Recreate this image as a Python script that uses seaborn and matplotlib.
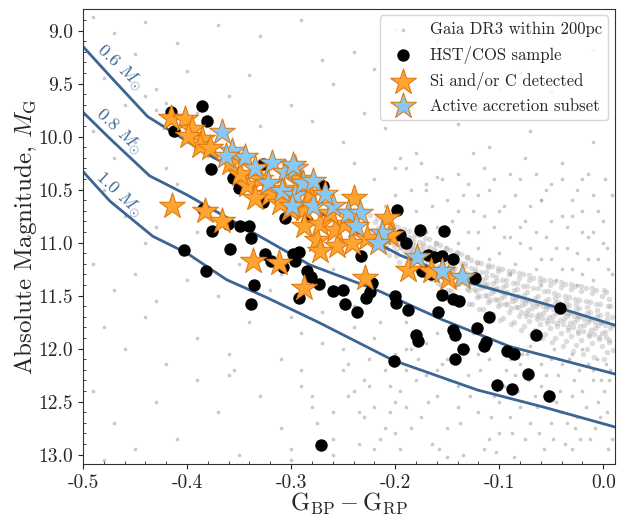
import matplotlib
matplotlib.use("Agg")
import matplotlib.pyplot as plt
from matplotlib.ticker import MultipleLocator
import pandas as pd
import seaborn as sns

# === Data ===
# Gaia DR3 background (colour, absolute G magnitude)
gaia_sparse = [
    (-0.49, 8.87), (-0.47, 9.02), (-0.44, 8.92), (-0.41, 9.12), (-0.37, 8.95), (-0.33, 9.05),
    (-0.29, 8.90), (-0.24, 9.20), (-0.20, 8.98), (-0.16, 9.10), (-0.11, 8.93), (-0.07, 9.25),
    (-0.03, 9.00), (-0.45, 9.22), (-0.27, 9.28), (-0.13, 9.30), (-0.01, 9.18),
    (-0.48, 9.45), (-0.43, 9.55), (-0.40, 9.38), (-0.36, 9.62), (-0.34, 9.42), (-0.30, 9.70),
    (-0.26, 9.50), (-0.22, 9.36), (-0.19, 9.65), (-0.15, 9.48), (-0.12, 9.72), (-0.08, 9.40),
    (-0.05, 9.58), (-0.02, 9.75), (-0.46, 9.70), (-0.39, 9.78), (-0.23, 9.78), (-0.10, 9.55),
    (-0.43, 9.75), (-0.42, 9.68), (-0.44, 9.62),
    (-0.49, 9.95), (-0.47, 10.20), (-0.45, 10.05), (-0.42, 10.30), (-0.33, 9.90), (-0.28, 9.85),
    (-0.25, 10.05), (-0.21, 9.92), (-0.18, 10.15), (-0.14, 9.88), (-0.11, 10.10), (-0.07, 9.95),
    (-0.04, 10.25), (-0.01, 10.05), (-0.20, 10.30), (-0.16, 10.38), (-0.09, 10.35), (-0.02, 10.40),
    (-0.48, 10.50), (-0.46, 10.75), (-0.43, 10.85), (-0.41, 10.45), (-0.39, 10.90), (-0.44, 11.00),
    (-0.12, 10.55), (-0.06, 10.60), (-0.03, 10.75), (-0.08, 10.85), (-0.14, 10.70), (-0.17, 10.50),
    (-0.01, 10.90), (-0.05, 10.45),
    (-0.49, 11.20), (-0.47, 11.45), (-0.45, 11.30), (-0.43, 11.55), (-0.40, 11.35), (-0.37, 11.50),
    (-0.35, 11.20), (-0.32, 11.45), (-0.26, 11.25), (-0.23, 11.35), (-0.31, 11.30), (-0.24, 11.60),
    (-0.48, 11.80), (-0.46, 12.00), (-0.44, 11.70), (-0.42, 12.15), (-0.39, 11.90), (-0.36, 12.05),
    (-0.34, 11.75), (-0.31, 12.10), (-0.29, 11.85), (-0.27, 11.65), (-0.25, 12.00), (-0.22, 11.90),
    (-0.21, 12.20),
    (-0.49, 12.40), (-0.47, 12.70), (-0.45, 12.95), (-0.43, 12.50), (-0.41, 12.85), (-0.39, 12.30),
    (-0.37, 12.60), (-0.35, 13.00), (-0.33, 12.45), (-0.31, 12.75), (-0.29, 12.35), (-0.28, 12.55),
    (-0.26, 12.85), (-0.24, 12.40), (-0.23, 12.65), (-0.22, 12.95), (-0.20, 12.50), (-0.48, 13.05),
    (-0.30, 13.05), (-0.36, 12.25), (-0.355, 12.20),
    (-0.30, 11.70), (-0.29, 12.20), (-0.28, 12.45), (-0.27, 11.95), (-0.26, 12.60), (-0.25, 12.20),
    (-0.24, 11.80), (-0.235, 12.90), (-0.23, 12.30), (-0.22, 12.55), (-0.215, 11.75), (-0.21, 12.75),
    (-0.205, 12.35), (-0.20, 12.05), (-0.195, 12.95), (-0.26, 13.00), (-0.245, 12.45), (-0.225, 12.10),
    (-0.275, 12.70), (-0.30, 12.95), (-0.19, 12.20),
]

gaia_band = [
    (-0.224, 10.74), (-0.219, 10.81), (-0.222, 10.88), (-0.216, 10.93), (-0.227, 10.97), (-0.213, 10.79),
    (-0.211, 10.80), (-0.207, 10.86), (-0.214, 10.92), (-0.205, 10.97), (-0.209, 11.02), (-0.203, 10.89),
    (-0.201, 10.83), (-0.197, 10.91), (-0.204, 10.98), (-0.195, 11.04), (-0.199, 11.08), (-0.193, 10.95),
    (-0.206, 11.12),
    (-0.191, 10.87), (-0.187, 10.95), (-0.193, 11.01), (-0.185, 11.07), (-0.189, 11.13), (-0.183, 10.99),
    (-0.196, 11.18),
    (-0.181, 10.92), (-0.177, 10.99), (-0.184, 11.05), (-0.175, 11.11), (-0.179, 11.17), (-0.173, 11.03),
    (-0.186, 11.22), (-0.171, 10.90),
    (-0.171, 10.96), (-0.167, 11.04), (-0.174, 11.10), (-0.165, 11.16), (-0.169, 11.23), (-0.163, 11.08),
    (-0.176, 11.28), (-0.161, 11.00),
    (-0.161, 11.00), (-0.157, 11.09), (-0.164, 11.15), (-0.155, 11.21), (-0.159, 11.28), (-0.153, 11.12),
    (-0.166, 11.34), (-0.151, 11.05),
    (-0.151, 11.05), (-0.147, 11.14), (-0.154, 11.21), (-0.145, 11.27), (-0.149, 11.34), (-0.143, 11.18),
    (-0.156, 11.40), (-0.141, 11.10), (-0.148, 11.24),
    (-0.141, 11.09), (-0.137, 11.19), (-0.144, 11.26), (-0.135, 11.32), (-0.139, 11.39), (-0.133, 11.22),
    (-0.146, 11.46), (-0.131, 11.14), (-0.138, 11.29),
    (-0.131, 11.14), (-0.127, 11.24), (-0.134, 11.31), (-0.125, 11.37), (-0.129, 11.45), (-0.123, 11.28),
    (-0.136, 11.52), (-0.121, 11.19), (-0.128, 11.34),
    (-0.121, 11.18), (-0.117, 11.28), (-0.124, 11.36), (-0.115, 11.42), (-0.119, 11.50), (-0.113, 11.32),
    (-0.126, 11.58), (-0.111, 11.23), (-0.118, 11.39), (-0.122, 11.46),
    (-0.111, 11.21), (-0.107, 11.31), (-0.114, 11.40), (-0.105, 11.46), (-0.109, 11.54), (-0.103, 11.36),
    (-0.116, 11.63), (-0.101, 11.27), (-0.108, 11.43), (-0.112, 11.50),
    (-0.101, 11.24), (-0.097, 11.35), (-0.104, 11.44), (-0.095, 11.50), (-0.099, 11.58), (-0.093, 11.40),
    (-0.106, 11.67), (-0.091, 11.30), (-0.098, 11.47), (-0.102, 11.54),
    (-0.091, 11.27), (-0.087, 11.38), (-0.094, 11.48), (-0.085, 11.54), (-0.089, 11.62), (-0.083, 11.44),
    (-0.096, 11.71), (-0.081, 11.33), (-0.088, 11.51), (-0.092, 11.58),
    (-0.081, 11.29), (-0.077, 11.41), (-0.084, 11.51), (-0.075, 11.57), (-0.079, 11.65), (-0.073, 11.47),
    (-0.086, 11.75), (-0.071, 11.35), (-0.078, 11.54), (-0.082, 11.61), (-0.074, 11.69),
    (-0.071, 11.31), (-0.067, 11.43), (-0.074, 11.54), (-0.065, 11.60), (-0.069, 11.68), (-0.063, 11.50),
    (-0.076, 11.79), (-0.061, 11.37), (-0.068, 11.57), (-0.072, 11.64), (-0.064, 11.72),
    (-0.061, 11.33), (-0.057, 11.46), (-0.064, 11.57), (-0.055, 11.63), (-0.059, 11.71), (-0.053, 11.53),
    (-0.066, 11.82), (-0.051, 11.40), (-0.058, 11.60), (-0.062, 11.67), (-0.054, 11.76),
    (-0.051, 11.35), (-0.047, 11.48), (-0.054, 11.60), (-0.045, 11.66), (-0.049, 11.74), (-0.043, 11.56),
    (-0.056, 11.86), (-0.041, 11.42), (-0.048, 11.63), (-0.052, 11.70), (-0.044, 11.79), (-0.046, 11.52),
    (-0.041, 11.37), (-0.037, 11.50), (-0.044, 11.63), (-0.035, 11.69), (-0.039, 11.77), (-0.033, 11.59),
    (-0.046, 11.90), (-0.031, 11.44), (-0.038, 11.66), (-0.042, 11.73), (-0.034, 11.82), (-0.036, 11.55),
    (-0.031, 11.39), (-0.027, 11.53), (-0.034, 11.66), (-0.025, 11.72), (-0.029, 11.80), (-0.023, 11.62),
    (-0.036, 11.93), (-0.021, 11.46), (-0.028, 11.69), (-0.032, 11.76), (-0.024, 11.85), (-0.026, 11.58),
    (-0.021, 11.41), (-0.017, 11.55), (-0.024, 11.69), (-0.015, 11.75), (-0.019, 11.83), (-0.013, 11.65),
    (-0.026, 11.97), (-0.011, 11.48), (-0.018, 11.72), (-0.022, 11.79), (-0.014, 11.88), (-0.016, 11.61),
    (-0.011, 11.43), (-0.007, 11.58), (-0.014, 11.72), (-0.005, 11.78), (-0.009, 11.86), (-0.003, 11.68),
    (-0.016, 12.00), (-0.001, 11.50), (-0.008, 11.75), (-0.012, 11.82), (-0.004, 11.91), (-0.006, 11.64),
    (0.001, 11.45), (0.005, 11.60), (-0.002, 11.75), (0.007, 11.81), (0.003, 11.89), (0.008, 11.70),
    (0.004, 12.03), (0.006, 11.53), (0.002, 11.78), (-0.001, 11.85), (0.006, 11.94), (0.004, 11.67),
]

gaia_band_fill = [
    (-0.217, 10.77), (-0.213, 10.83), (-0.216, 10.86), (-0.212, 10.89), (-0.218, 10.91), (-0.214, 10.94), (-0.211, 10.97), (-0.219, 11.01),
    (-0.207, 10.81), (-0.203, 10.87), (-0.206, 10.91), (-0.202, 10.93), (-0.208, 10.96), (-0.204, 10.99), (-0.201, 11.03), (-0.209, 11.07),
    (-0.197, 10.85), (-0.193, 10.91), (-0.196, 10.95), (-0.192, 10.98), (-0.198, 11.01), (-0.194, 11.04), (-0.191, 11.08), (-0.199, 11.13),
    (-0.187, 10.89), (-0.183, 10.96), (-0.186, 11.00), (-0.182, 11.03), (-0.188, 11.06), (-0.184, 11.10), (-0.181, 11.14), (-0.189, 11.19),
    (-0.177, 10.93), (-0.173, 11.00), (-0.176, 11.05), (-0.172, 11.08), (-0.178, 11.11), (-0.174, 11.15), (-0.171, 11.20), (-0.179, 11.26),
    (-0.167, 10.97), (-0.163, 11.05), (-0.166, 11.10), (-0.162, 11.13), (-0.168, 11.16), (-0.164, 11.21), (-0.161, 11.26), (-0.169, 11.32),
    (-0.157, 11.02), (-0.153, 11.09), (-0.156, 11.14), (-0.152, 11.18), (-0.158, 11.22), (-0.154, 11.26), (-0.151, 11.31), (-0.159, 11.38),
    (-0.147, 11.07), (-0.143, 11.14), (-0.146, 11.20), (-0.142, 11.24), (-0.148, 11.28), (-0.144, 11.32), (-0.141, 11.38), (-0.149, 11.45),
    (-0.137, 11.11), (-0.133, 11.19), (-0.136, 11.25), (-0.132, 11.29), (-0.138, 11.33), (-0.134, 11.38), (-0.131, 11.44), (-0.139, 11.51),
    (-0.127, 11.16), (-0.123, 11.25), (-0.126, 11.31), (-0.122, 11.35), (-0.128, 11.39), (-0.124, 11.44), (-0.121, 11.51), (-0.129, 11.58),
    (-0.117, 11.19), (-0.113, 11.28), (-0.116, 11.35), (-0.112, 11.39), (-0.118, 11.43), (-0.114, 11.49), (-0.111, 11.56), (-0.119, 11.63),
    (-0.107, 11.22), (-0.103, 11.32), (-0.106, 11.38), (-0.102, 11.43), (-0.108, 11.48), (-0.104, 11.53), (-0.101, 11.60), (-0.109, 11.68),
    (-0.097, 11.25), (-0.093, 11.35), (-0.096, 11.42), (-0.092, 11.47), (-0.098, 11.52), (-0.094, 11.58), (-0.091, 11.65), (-0.099, 11.73),
    (-0.087, 11.27), (-0.083, 11.38), (-0.086, 11.45), (-0.082, 11.50), (-0.088, 11.55), (-0.084, 11.61), (-0.081, 11.69), (-0.089, 11.77),
    (-0.077, 11.30), (-0.073, 11.41), (-0.076, 11.49), (-0.072, 11.54), (-0.078, 11.59), (-0.074, 11.66), (-0.071, 11.74), (-0.079, 11.82),
    (-0.067, 11.33), (-0.063, 11.43), (-0.066, 11.52), (-0.062, 11.57), (-0.068, 11.62), (-0.064, 11.69), (-0.061, 11.77), (-0.069, 11.86),
    (-0.057, 11.35), (-0.053, 11.46), (-0.056, 11.55), (-0.052, 11.60), (-0.058, 11.66), (-0.054, 11.73), (-0.051, 11.81), (-0.059, 11.90),
    (-0.047, 11.37), (-0.043, 11.49), (-0.046, 11.57), (-0.042, 11.63), (-0.048, 11.69), (-0.044, 11.76), (-0.041, 11.85), (-0.049, 11.94),
    (-0.037, 11.39), (-0.033, 11.51), (-0.036, 11.60), (-0.032, 11.66), (-0.038, 11.72), (-0.034, 11.80), (-0.031, 11.88), (-0.039, 11.98),
    (-0.027, 11.41), (-0.023, 11.54), (-0.026, 11.63), (-0.022, 11.69), (-0.028, 11.75), (-0.024, 11.83), (-0.021, 11.92), (-0.029, 12.02),
    (-0.017, 11.43), (-0.013, 11.56), (-0.016, 11.66), (-0.012, 11.72), (-0.018, 11.78), (-0.014, 11.86), (-0.011, 11.95), (-0.019, 12.05),
    (-0.007, 11.45), (-0.003, 11.58), (-0.006, 11.69), (-0.002, 11.75), (-0.008, 11.81), (-0.004, 11.89), (-0.001, 11.98), (-0.009, 12.08),
    (0.003, 11.47), (0.007, 11.60), (0.004, 11.72), (0.008, 11.78), (0.002, 11.84), (0.006, 11.92), (0.009, 12.01), (0.001, 12.10),
]

gaia_upper = [
    (-0.24, 10.25), (-0.22, 10.40), (-0.20, 10.55), (-0.19, 10.30), (-0.18, 10.70), (-0.17, 10.45),
    (-0.16, 10.85), (-0.15, 10.60), (-0.14, 10.35), (-0.13, 10.90), (-0.125, 10.70), (-0.12, 11.05),
    (-0.11, 10.50), (-0.105, 10.85), (-0.10, 11.10), (-0.095, 10.65), (-0.09, 10.95), (-0.085, 11.20),
    (-0.08, 10.40), (-0.075, 10.80), (-0.07, 11.05), (-0.065, 11.25), (-0.06, 10.60), (-0.055, 10.95),
    (-0.05, 11.15), (-0.045, 11.35), (-0.04, 10.75), (-0.035, 11.05), (-0.03, 11.25), (-0.025, 10.50),
    (-0.02, 10.90), (-0.015, 11.15), (-0.01, 11.35), (-0.005, 10.70), (0.0, 11.00), (0.005, 11.25),
    (0.008, 10.55), (-0.21, 10.65), (-0.115, 10.30), (-0.065, 10.35), (-0.015, 10.35), (-0.09, 11.30),
    (-0.06, 11.40), (-0.025, 11.40),
    (-0.195, 10.20), (-0.185, 10.50), (-0.175, 10.25), (-0.165, 10.65), (-0.155, 10.40), (-0.145, 10.80),
    (-0.135, 10.55), (-0.125, 10.15), (-0.115, 10.75), (-0.105, 10.40), (-0.095, 10.95), (-0.085, 10.55),
    (-0.075, 10.20), (-0.07, 10.65), (-0.065, 10.90), (-0.055, 10.50), (-0.05, 10.80), (-0.045, 11.05),
    (-0.04, 10.40), (-0.035, 10.85), (-0.03, 10.60), (-0.025, 11.10), (-0.02, 10.70), (-0.015, 10.95),
    (-0.01, 10.55), (-0.005, 11.15), (0.0, 10.80), (0.004, 11.05), (0.008, 11.30), (-0.14, 11.00),
    (-0.12, 10.90), (-0.10, 10.70), (-0.08, 11.00), (-0.06, 11.15), (-0.04, 11.25), (-0.02, 11.30),
    (0.002, 10.40), (-0.11, 11.15), (-0.13, 10.45), (-0.17, 10.90),
]

gaia_lower = [
    (-0.19, 11.75), (-0.18, 12.30), (-0.175, 12.65), (-0.17, 11.95), (-0.165, 12.90), (-0.16, 12.45),
    (-0.155, 12.15), (-0.15, 12.75), (-0.145, 11.90), (-0.14, 12.55), (-0.135, 13.00), (-0.13, 12.25),
    (-0.125, 11.85), (-0.12, 12.60), (-0.115, 12.95), (-0.11, 12.10), (-0.105, 12.45), (-0.10, 12.80),
    (-0.098, 11.95), (-0.093, 12.20), (-0.09, 12.65), (-0.086, 13.02), (-0.082, 12.40), (-0.078, 12.05),
    (-0.075, 12.85), (-0.071, 12.30), (-0.068, 11.90), (-0.064, 12.55), (-0.06, 12.15), (-0.057, 12.95),
    (-0.053, 12.40), (-0.05, 12.70), (-0.047, 12.00), (-0.043, 12.25), (-0.04, 12.60), (-0.037, 12.90),
    (-0.033, 12.10), (-0.03, 12.45), (-0.027, 12.75), (-0.023, 12.20), (-0.02, 12.00), (-0.017, 12.55),
    (-0.013, 12.85), (-0.01, 12.30), (-0.006, 12.10), (-0.003, 12.65), (0.001, 12.40), (0.005, 12.95),
    (0.007, 12.20), (-0.185, 12.00), (-0.16, 12.20), (-0.14, 12.35), (-0.12, 12.05), (-0.10, 12.50),
    (-0.08, 12.15), (-0.06, 12.35), (-0.04, 12.15), (-0.02, 12.40), (0.003, 12.15), (-0.11, 12.85),
    (-0.07, 12.70), (-0.03, 12.95), (-0.15, 13.02), (-0.19, 12.55), (-0.20, 12.80), (-0.085, 12.25),
    (-0.045, 12.50), (-0.025, 12.65), (-0.005, 12.50),
    (-0.245, 12.15), (-0.235, 12.60), (-0.225, 12.35), (-0.215, 12.85), (-0.205, 12.60), (-0.195, 12.40),
    (-0.185, 12.75), (-0.178, 12.10), (-0.168, 12.50), (-0.158, 12.95), (-0.148, 12.30), (-0.138, 12.70),
    (-0.128, 12.45), (-0.118, 12.20), (-0.108, 12.65), (-0.103, 12.98), (-0.095, 12.35), (-0.088, 12.80),
    (-0.08, 12.55), (-0.073, 12.05), (-0.066, 12.45), (-0.062, 12.80), (-0.055, 12.25), (-0.048, 12.85),
    (-0.042, 12.40), (-0.035, 12.70), (-0.028, 12.30), (-0.022, 12.85), (-0.015, 12.15), (-0.008, 12.75),
    (-0.002, 12.30), (0.004, 12.60), (0.008, 12.85), (-0.13, 12.00), (-0.11, 11.95), (-0.09, 12.10),
    (-0.07, 11.98), (-0.05, 12.10), (-0.03, 12.05), (-0.01, 12.20), (0.006, 12.30), (-0.15, 12.10),
    (-0.17, 12.25), (-0.19, 12.00), (-0.16, 11.85),
]

# HST/COS sample
cos_color = [
    -0.415, -0.4125, -0.386, -0.381, -0.377, -0.356, -0.350, -0.327, -0.327, -0.385,
    -0.361, -0.349, -0.340, -0.339, -0.376, -0.403, -0.359, -0.382, -0.325, -0.319,
    -0.308, -0.298, -0.292, -0.296, -0.285, -0.281, -0.273, -0.336, -0.339, -0.292,
    -0.260, -0.250, -0.248, -0.237, -0.233, -0.228, -0.306, -0.285, -0.198, -0.176,
    -0.153, -0.195, -0.190, -0.168, -0.163, -0.155, -0.144, -0.123, -0.224, -0.200,
    -0.155, -0.269, -0.174, -0.166, -0.042, -0.222, -0.199, -0.188, -0.159, -0.144,
    -0.139, -0.180, -0.178, -0.110, -0.121, -0.144, -0.142, -0.135, -0.142, -0.113,
    -0.115, -0.092, -0.086, -0.065, -0.072, -0.102, -0.088, -0.052, -0.201, -0.271,
]
cos_mag = [
    9.77, 9.95, 9.71, 9.85, 10.31, 10.39, 10.48, 10.26, 10.62, 10.68,
    10.82, 10.84, 10.84, 10.96, 10.89, 11.07, 11.06, 11.27, 11.11, 11.17,
    11.23, 11.11, 11.09, 11.17, 11.27, 11.32, 11.39, 11.40, 11.58, 11.52,
    11.46, 11.45, 11.58, 11.65, 11.13, 11.52, 10.77, 10.80, 10.69, 10.88,
    10.89, 10.93, 11.00, 11.12, 11.14, 11.13, 11.15, 11.33, 11.47, 11.50,
    11.49, 10.47, 11.27, 11.30, 11.62, 11.38, 11.57, 11.64, 11.65, 11.53,
    11.55, 11.87, 11.93, 11.70, 11.81, 11.82, 11.87, 12.00, 12.10, 11.94,
    11.98, 12.02, 12.05, 11.87, 12.24, 12.34, 12.38, 12.45, 12.12, 12.91,
]

# Si and/or C detected
sic_color = [
    -0.415, -0.402, -0.395, -0.386, -0.388, -0.399, -0.378, -0.414, -0.383, -0.366,
    -0.342, -0.349, -0.337, -0.312, -0.288, -0.308, -0.288, -0.288, -0.275, -0.256,
    -0.241, -0.272, -0.240, -0.208, -0.227, -0.188, -0.205, -0.149, -0.229, -0.330,
    -0.320, -0.359, -0.301, -0.272, -0.258, -0.248, -0.282, -0.335, -0.166, -0.291,
    -0.311, -0.263,
]
sic_mag = [
    9.82, 9.83, 9.93, 10.02, 10.09, 9.99, 10.11, 10.65, 10.70, 10.80,
    10.46, 10.35, 11.17, 11.19, 11.43, 10.49, 10.68, 10.84, 10.98, 11.03,
    11.00, 11.08, 10.58, 10.77, 10.96, 11.26, 10.93, 11.33, 11.33, 10.40,
    10.54, 10.25, 10.68, 10.82, 10.88, 10.82, 10.54, 10.58, 11.27, 10.40,
    10.63, 10.72,
]

# Active accretion subset
acc_color = [
    -0.366, -0.357, -0.344, -0.363, -0.318, -0.306, -0.296, -0.322, -0.309, -0.296,
    -0.299, -0.289, -0.298, -0.279, -0.279, -0.260, -0.245, -0.234, -0.238, -0.213,
    -0.216, -0.179, -0.155, -0.136, -0.335, -0.267,
]
acc_mag = [
    9.96, 10.14, 10.19, 10.18, 10.25, 10.33, 10.30, 10.44, 10.51, 10.55,
    10.65, 10.44, 10.27, 10.42, 10.65, 10.65, 10.72, 10.72, 10.84, 10.91,
    11.00, 11.14, 11.27, 11.32, 10.30, 10.54,
]

# Cooling tracks
track_06_color = [-0.5, -0.474, -0.438, -0.376, -0.299, -0.195, -0.128, -0.041, 0.0115]
track_06_mag = [9.15, 9.43, 9.81, 10.19, 10.58, 11.12, 11.38, 11.62, 11.78]
track_08_color = [-0.5, -0.474, -0.436, -0.40, -0.282, -0.217, -0.154, -0.090, 0.0115]
track_08_mag = [9.77, 10.02, 10.37, 10.55, 11.21, 11.45, 11.73, 11.98, 12.24]
track_10_color = [-0.5, -0.474, -0.433, -0.40, -0.362, -0.323, -0.272, -0.202, -0.121, -0.058, 0.0115]
track_10_mag = [10.33, 10.61, 10.94, 11.10, 11.35, 11.52, 11.76, 12.11, 12.39, 12.55, 12.74]

track_labels = ["0.6 $M_{\\odot}$", "0.8 $M_{\\odot}$", "1.0 $M_{\\odot}$"]
label_color = [-0.465, -0.466, -0.466]
label_mag = [9.35, 9.955, 10.55]

# === Style ===
sns.set_style("ticks")
plt.rcParams.update({
    "font.family": "serif",
    "font.serif": ["cmr10", "DejaVu Serif"],
    "mathtext.fontset": "cm",
    "axes.unicode_minus": False,
    "axes.edgecolor": "0.2",
})

track_col = "#3b6593"
orange = "#ffa431"
orange_edge = "#e07b10"

gaia_bg = pd.DataFrame(gaia_sparse + gaia_upper + gaia_lower, columns=["bp_rp", "mg"])
gaia_seq = pd.DataFrame(gaia_band + gaia_band_fill, columns=["bp_rp", "mg"])

fig, ax = plt.subplots(figsize=(6.29, 5.18), dpi=100)
fig.subplots_adjust(left=0.132, right=0.978, top=0.983, bottom=0.104)

# background sample and the denser white dwarf sequence
sns.scatterplot(data=gaia_bg, x="bp_rp", y="mg", ax=ax, s=7, color="#a8a8a8", alpha=0.6,
                linewidth=0, label="Gaia DR3 within 200pc", zorder=1)
sns.scatterplot(data=gaia_seq, x="bp_rp", y="mg", ax=ax, s=16, color="#a0a0a0", alpha=0.35,
                linewidth=0, legend=False, zorder=1)

for tc, tm in [(track_06_color, track_06_mag), (track_08_color, track_08_mag),
               (track_10_color, track_10_mag)]:
    sns.lineplot(x=tc, y=tm, sort=False, estimator=None, ax=ax, color=track_col,
                 lw=2, legend=False, zorder=2)

for lab, lx, ly in zip(track_labels, label_color, label_mag):
    ax.text(lx, ly, lab, rotation=-43, color=track_col, fontsize=13,
            ha="center", va="center", zorder=2)

sns.scatterplot(x=cos_color, y=cos_mag, ax=ax, s=80, color="black", linewidth=0,
                label="HST/COS sample", zorder=3)
sns.scatterplot(x=sic_color, y=sic_mag, ax=ax, s=380, marker="*", color=orange,
                edgecolor=orange_edge, linewidth=0.8, label="Si and/or C detected", zorder=4)
sns.scatterplot(x=acc_color, y=acc_mag, ax=ax, s=380, marker="*", color="#87c8f5",
                edgecolor=orange_edge, linewidth=0.8, label="Active accretion subset", zorder=5)

ax.set_xlim(-0.5, 0.0115)
ax.set_ylim(13.09, 8.794)
ax.xaxis.set_major_locator(MultipleLocator(0.1))
ax.xaxis.set_minor_locator(MultipleLocator(0.02))
ax.yaxis.set_major_locator(MultipleLocator(0.5))
ax.yaxis.set_minor_locator(MultipleLocator(0.1))
ax.tick_params(which="major", direction="out", length=3.5, labelsize=14)
ax.tick_params(which="minor", direction="in", length=2)
ax.set_xlabel(r"$\mathrm{G_{BP} - G_{RP}}$", fontsize=17.5, labelpad=-1)
ax.set_ylabel(r"Absolute Magnitude, $M_{\mathrm{G}}$", fontsize=18, labelpad=0)

ax.legend(loc="upper right", fontsize=12, frameon=True, framealpha=0.8,
          edgecolor="0.8", borderaxespad=0.4, handletextpad=0.6)

plt.savefig("out.png", dpi=100)
